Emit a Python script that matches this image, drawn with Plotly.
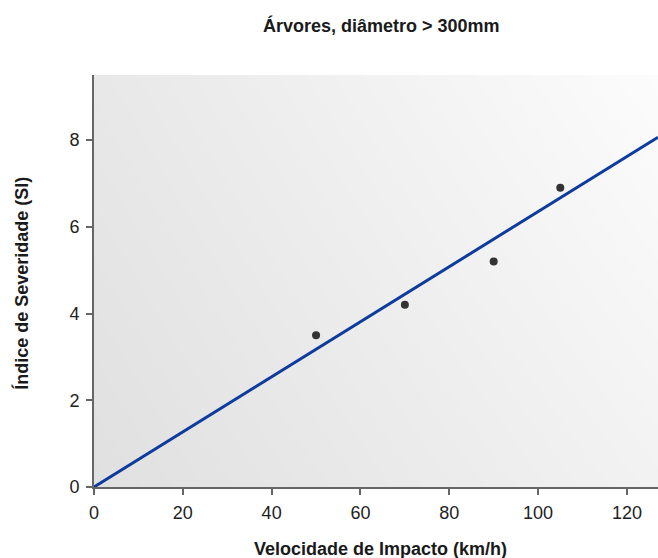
import numpy as np
import plotly.graph_objects as go

# Impact speed (km/h) vs severity index for trees with diameter > 300 mm
speed_kmh = [50, 70, 90, 105]
severity_index = [3.5, 4.2, 5.2, 6.9]

# Linear trend through the origin
trend_slope = 0.0635

x_max = 127
y_max = 9.5
x_ticks = [0, 20, 40, 60, 80, 100, 120]
y_ticks = [0, 2, 4, 6, 8]

FONT = "Liberation Sans, Arial, sans-serif"

# Soft grey background gradient: darker lower-left, lighter upper-right
gx = np.linspace(-5, x_max + 5, 30)
gy = np.linspace(-0.5, y_max + 0.5, 30)
U, V = np.meshgrid(gx / x_max, gy / y_max)
shade = 224 + 18 * U + 8 * V + 2 * U * V

trend_x = [0, x_max]
trend_y = [trend_slope * v for v in trend_x]

fig = go.Figure()
fig.add_trace(go.Heatmap(
    x=gx, y=gy, z=shade, zmin=224, zmax=252, zsmooth="best",
    colorscale=[[0, "rgb(224,224,224)"], [1, "rgb(252,252,252)"]],
    showscale=False, hoverinfo="skip",
))
fig.add_trace(go.Scatter(
    x=trend_x, y=trend_y, mode="lines",
    line=dict(color="#0e3c9e", width=3), showlegend=False,
))
fig.add_trace(go.Scatter(
    x=speed_kmh, y=severity_index, mode="markers",
    marker=dict(color="#333333", size=8), showlegend=False,
))

axis_common = dict(
    showgrid=False, zeroline=False, showline=True,
    linecolor="#666666", linewidth=2,
    ticks="outside", ticklen=6, tickwidth=1.5, tickcolor="#666666",
    tickfont=dict(family=FONT, size=18, color="#222222"),
)

title_font = dict(family=FONT, size=18, color="#1a1a1a")

fig.update_layout(
    width=658, height=558,
    margin=dict(l=94, r=0, t=75, b=71),
    paper_bgcolor="white", plot_bgcolor="white",
    xaxis=dict(range=[0, x_max], tickvals=x_ticks, ticklabelstandoff=2, **axis_common),
    yaxis=dict(range=[0, y_max], tickvals=y_ticks, ticklabelstandoff=3, **axis_common),
    annotations=[
        dict(text="<b>Árvores, diâmetro > 300mm</b>", xref="paper", yref="paper",
             x=0.51, y=1.119, xanchor="center", yanchor="middle",
             showarrow=False, font=title_font),
        dict(text="<b>Velocidade de Impacto (km/h)</b>", xref="paper", yref="paper",
             x=0.508, y=-0.151, xanchor="center", yanchor="middle",
             showarrow=False, font=title_font),
        dict(text="<b>Índice de Severidade (SI)</b>", xref="paper", yref="paper",
             x=-0.13, y=0.495, xanchor="center", yanchor="middle", textangle=-90,
             showarrow=False, font=title_font),
    ],
)

fig.write_html("out.html")
